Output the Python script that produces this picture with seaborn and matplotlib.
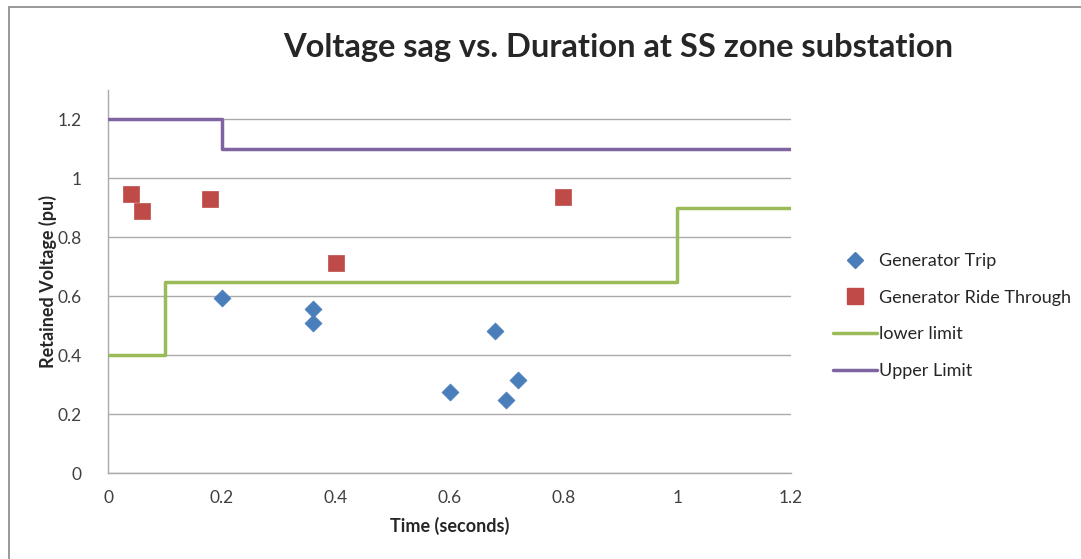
import matplotlib
matplotlib.use("Agg")
import matplotlib.pyplot as plt
import seaborn as sns
import pandas as pd
from matplotlib.lines import Line2D
from matplotlib.patches import Rectangle

# ---- data ----
trip_time = [0.20, 0.36, 0.36, 0.60, 0.68, 0.70, 0.72]
trip_volt = [0.595, 0.555, 0.51, 0.275, 0.483, 0.248, 0.316]

ride_time = [0.04, 0.06, 0.18, 0.40, 0.80]
ride_volt = [0.948, 0.89, 0.931, 0.714, 0.938]

lower_time = [0.0, 0.1, 1.0, 1.2]
lower_volt = [0.4, 0.65, 0.9, 0.9]

upper_time = [0.0, 0.2, 1.2]
upper_volt = [1.2, 1.1, 1.1]

x_ticks = [0, 0.2, 0.4, 0.6, 0.8, 1, 1.2]
y_ticks = [0, 0.2, 0.4, 0.6, 0.8, 1, 1.2]
x_tick_labels = ["0", "0.2", "0.4", "0.6", "0.8", "1", "1.2"]
y_tick_labels = ["0", "0.2", "0.4", "0.6", "0.8", "1", "1.2"]

series_names = ["Generator Trip", "Generator Ride Through", "lower limit", "Upper Limit"]
title = "Voltage sag vs. Duration at SS zone substation"
x_label = "Time (seconds)"
y_label = "Retained Voltage (pu)"

BLUE = "#4A7EBB"
RED = "#BE4B48"
GREEN = "#9BBB59"
PURPLE = "#8064A2"

sns.set_theme(style="white")
plt.rcParams["font.family"] = ["Lato", "DejaVu Sans"]

fig = plt.figure(figsize=(10.81, 5.59), dpi=100)
fig.patch.set_facecolor("white")
ax = fig.add_axes([108 / 1081, 1 - 473 / 559, (791 - 108) / 1081, (473 - 90) / 559])

# outer chart border
fig.patches.append(Rectangle((9 / 1081, -0.05), 1.2, (559 - 7) / 559 + 0.05,
                             transform=fig.transFigure, fill=False,
                             edgecolor="#888888", linewidth=1.2, zorder=0))

trip_df = pd.DataFrame({"t": trip_time, "v": trip_volt})
ride_df = pd.DataFrame({"t": ride_time, "v": ride_volt})
low_df = pd.DataFrame({"t": lower_time, "v": lower_volt})
up_df = pd.DataFrame({"t": upper_time, "v": upper_volt})

sns.lineplot(data=low_df, x="t", y="v", ax=ax, color=GREEN, linewidth=2.5,
             drawstyle="steps-post", sort=False, estimator=None, zorder=3)
sns.lineplot(data=up_df, x="t", y="v", ax=ax, color=PURPLE, linewidth=2.5,
             drawstyle="steps-post", sort=False, estimator=None, zorder=3)
sns.scatterplot(data=trip_df, x="t", y="v", ax=ax, marker="D", s=75,
                color=BLUE, edgecolor=BLUE, linewidth=0.5, zorder=4)
sns.scatterplot(data=ride_df, x="t", y="v", ax=ax, marker="s", s=135,
                color=RED, edgecolor=RED, linewidth=0.5, zorder=4)

ax.set_xlim(0, 1.2)
ax.set_ylim(0, 1.3)
ax.set_xticks(x_ticks)
ax.set_xticklabels(x_tick_labels)
ax.set_yticks(y_ticks)
ax.set_yticklabels(y_tick_labels)
ax.tick_params(axis="both", labelsize=12.5, colors="#404040", length=4,
               direction="in", width=1)
ax.tick_params(axis="x", pad=12, color="#aaaaaa")
ax.tick_params(axis="y", pad=19, color="#aaaaaa", length=0)
ax.grid(axis="y", color="#aaaaaa", linewidth=1)
ax.set_axisbelow(True)
for side in ["top", "right"]:
    ax.spines[side].set_visible(False)
for side in ["left", "bottom"]:
    ax.spines[side].set_color("#aaaaaa")
    ax.spines[side].set_linewidth(1)

ax.set_xlabel(x_label, fontsize=13, fontweight="bold", labelpad=8)
ax.set_ylabel(y_label, fontsize=13, fontweight="bold", labelpad=0)

fig.text(618 / 1081, 1 - 48 / 559, title, fontsize=23.5, fontweight="bold",
         ha="center", va="center")

handles = [
    Line2D([], [], marker="D", color=BLUE, linestyle="None", markersize=8),
    Line2D([], [], marker="s", color=RED, linestyle="None", markersize=11),
    Line2D([], [], color=GREEN, linewidth=2.5),
    Line2D([], [], color=PURPLE, linewidth=2.5),
]
fig.legend(handles, series_names, loc="center left",
           bbox_to_anchor=(817 / 1081, 1 - 316 / 559), frameon=False,
           fontsize=13, handlelength=2.4, handletextpad=0.15,
           labelspacing=1.15)

fig.savefig("out.png", dpi=100, facecolor="white")
